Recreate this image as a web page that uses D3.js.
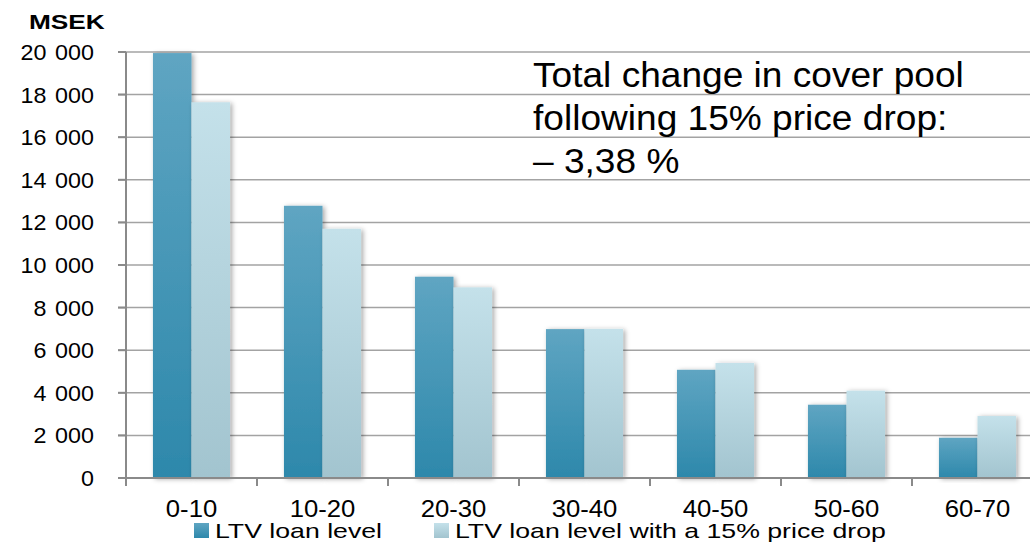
<!DOCTYPE html>
<html>
<head>
<meta charset="utf-8">
<script src="https://d3js.org/d3.v7.min.js"></script>
<style>
  body { margin: 0; background: #fff; }
  svg { display: block; }
</style>
</head>
<body>
<div id="chart"></div>
<script>
// Chart data
const categories = ["0-10", "10-20", "20-30", "30-40", "40-50", "50-60", "60-70"];
const loanLevel = [19950, 12780, 9450, 6990, 5080, 3440, 1890];
const priceDrop = [17640, 11700, 8950, 7000, 5400, 4100, 2910];
const seriesNames = ["LTV loan level", "LTV loan level with a 15% price drop"];
const yTicks = [0, 2000, 4000, 6000, 8000, 10000, 12000, 14000, 16000, 18000, 20000];
const unitLabel = "MSEK";
const noteLines = ["Total change in cover pool", "following 15% price drop:", "\u2013 3,38 %"];

(() => {
    // Style configuration
    const styles = {
        font: "'Liberation Sans', Arial, Helvetica, sans-serif",
        grid: { stroke: "#a3a3a3", width: 1.5 },
        axis: { stroke: "#8a8a8a", width: 2 },
        series: [
            { id: "gradDark", top: "#5fa5c2", bottom: "#2d88ab" },
            { id: "gradLight", top: "#c4e1ea", bottom: "#a2c4cf" }
        ]
    };

    const width = 1030;
    const height = 546;
    const margin = { top: 52, right: -13, bottom: 68, left: 126 };

    const svg = d3.select("#chart").append("svg")
        .attr("width", width)
        .attr("height", height)
        .style("font-family", styles.font);

    const defs = svg.append("defs");
    styles.series.forEach(s => {
        const g = defs.append("linearGradient")
            .attr("id", s.id)
            .attr("x1", 0).attr("y1", 0).attr("x2", 0).attr("y2", 1);
        g.append("stop").attr("offset", "0%").attr("stop-color", s.top);
        g.append("stop").attr("offset", "100%").attr("stop-color", s.bottom);
    });
    defs.append("filter")
        .attr("id", "shadow")
        .attr("x", "-30%").attr("y", "-10%").attr("width", "160%").attr("height", "120%")
        .append("feDropShadow")
        .attr("dx", 2).attr("dy", 1)
        .attr("stdDeviation", 2.5)
        .attr("flood-color", "#000")
        .attr("flood-opacity", 0.35);

    const x0 = d3.scaleBand()
        .domain(categories)
        .range([margin.left, width - margin.right])
        .paddingInner(0);

    const x1 = d3.scaleBand()
        .domain(seriesNames)
        .range([0, x0.bandwidth()])
        .paddingInner(0)
        .paddingOuter(0.7);

    const y = d3.scaleLinear()
        .domain([0, 20000])
        .range([height - margin.bottom, margin.top]);

    const fmt = d3.formatLocale({ decimal: ",", thousands: " ", grouping: [3], currency: ["", ""] }).format(",d");

    // gridlines
    svg.append("g")
        .selectAll("line")
        .data(yTicks.filter(d => d > 0))
        .enter().append("line")
        .attr("x1", margin.left - 8)
        .attr("x2", width)
        .attr("y1", d => y(d))
        .attr("y2", d => y(d))
        .attr("stroke", styles.grid.stroke)
        .attr("stroke-width", styles.grid.width);

    // bars
    const rows = categories.map((c, i) => ({ cat: c, values: [loanLevel[i], priceDrop[i]] }));
    const groups = svg.append("g")
        .selectAll("g")
        .data(rows)
        .enter().append("g")
        .attr("transform", d => `translate(${x0(d.cat)},0)`);

    groups.selectAll("rect")
        .data(d => d.values.map((v, k) => ({ name: seriesNames[k], value: v, k })))
        .enter().append("rect")
        .attr("x", d => x1(d.name))
        .attr("y", d => y(d.value))
        .attr("width", x1.bandwidth())
        .attr("height", d => y(0) - y(d.value))
        .attr("fill", d => `url(#${styles.series[d.k].id})`)
        .attr("filter", "url(#shadow)");

    // y axis
    svg.append("line")
        .attr("x1", margin.left).attr("x2", margin.left)
        .attr("y1", y(20000)).attr("y2", y(0))
        .attr("stroke", styles.axis.stroke)
        .attr("stroke-width", styles.axis.width);

    svg.append("g")
        .selectAll("line")
        .data(yTicks)
        .enter().append("line")
        .attr("x1", margin.left - 8).attr("x2", margin.left)
        .attr("y1", d => y(d)).attr("y2", d => y(d))
        .attr("stroke", styles.axis.stroke)
        .attr("stroke-width", styles.axis.width);

    svg.append("g")
        .selectAll("text")
        .data(yTicks)
        .enter().append("text")
        .attr("transform", d => `translate(94,${y(d)}) scale(1.06,1)`)
        .attr("dy", "0.36em")
        .attr("text-anchor", "end")
        .style("font-size", "22px")
        .style("word-spacing", "2px")
        .attr("fill", "#000")
        .text(d => fmt(d));

    // x axis
    svg.append("line")
        .attr("x1", margin.left - 8).attr("x2", width)
        .attr("y1", y(0)).attr("y2", y(0))
        .attr("stroke", styles.axis.stroke)
        .attr("stroke-width", styles.axis.width);

    svg.append("g")
        .selectAll("line")
        .data(categories)
        .enter().append("line")
        .attr("x1", d => x0(d)).attr("x2", d => x0(d))
        .attr("y1", y(0)).attr("y2", y(0) + 8)
        .attr("stroke", styles.axis.stroke)
        .attr("stroke-width", styles.axis.width);

    svg.append("g")
        .selectAll("text")
        .data(categories)
        .enter().append("text")
        .attr("transform", d => `translate(${x0(d) + x0.bandwidth() / 2},517) scale(1.07,1)`)
        .attr("text-anchor", "middle")
        .style("font-size", "24px")
        .attr("fill", "#000")
        .text(d => d);

    // unit label
    svg.append("text")
        .attr("transform", "translate(29,29) scale(1.25,1)")
        .style("font-size", "21px")
        .style("font-weight", "bold")
        .attr("fill", "#000")
        .text(unitLabel);

    // annotation
    svg.append("g")
        .selectAll("text")
        .data(noteLines)
        .enter().append("text")
        .attr("transform", (d, i) => `translate(533,${87 + i * 43}) scale(1.06,1)`)
        .style("font-size", "35px")
        .attr("fill", "#000")
        .text(d => d);

    // legend
    const legendX = [194, 434];
    const legend = svg.append("g")
        .selectAll("g")
        .data(seriesNames)
        .enter().append("g")
        .attr("transform", (d, i) => `translate(${legendX[i]},523)`);

    legend.append("rect")
        .attr("width", 15)
        .attr("height", 15)
        .attr("fill", (d, i) => `url(#${styles.series[i].id})`);

    legend.append("text")
        .attr("transform", "translate(21,15) scale(1.27,1)")
        .style("font-size", "21px")
        .attr("fill", "#000")
        .text(d => d);
})();
</script>
</body>
</html>
